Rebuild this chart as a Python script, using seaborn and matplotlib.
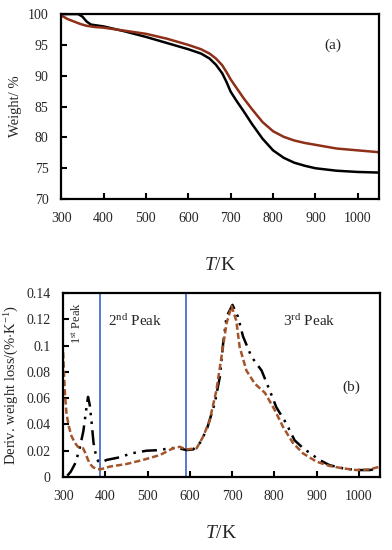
import matplotlib
matplotlib.use("Agg")
import matplotlib.pyplot as plt
import seaborn as sns

# ---- data: panel (a) TGA ----
t_black_a = [300, 320, 340, 350, 360, 370, 400, 450, 500, 550, 600, 630, 650, 665, 680, 690,
             700, 715, 730, 750, 775, 800, 825, 850, 875, 900, 950, 1000, 1050]
w_black_a = [100, 100, 100, 99.6, 98.8, 98.3, 98.0, 97.2, 96.3, 95.3, 94.3, 93.6, 92.8, 91.8, 90.4, 89.0,
             87.4, 85.8, 84.3, 82.2, 79.8, 77.9, 76.7, 75.9, 75.4, 75.0, 74.6, 74.4, 74.3]
t_brown_a = [300, 315, 330, 345, 360, 380, 400, 450, 500, 550, 600, 630, 650, 665, 680, 690,
             700, 715, 730, 750, 775, 800, 825, 850, 875, 900, 950, 1000, 1050]
w_brown_a = [99.8, 99.2, 98.8, 98.4, 98.1, 97.9, 97.8, 97.3, 96.8, 96.0, 95.0, 94.3, 93.6, 92.8, 91.7, 90.6,
             89.4, 87.9, 86.4, 84.6, 82.5, 81.0, 80.1, 79.5, 79.1, 78.8, 78.2, 77.9, 77.6]

# ---- data: panel (b) DTG ----
t_black_b = [310, 318, 328, 338, 348, 355, 359, 363, 368, 372, 378, 383, 390, 403, 434, 462, 497, 529,
             553, 573, 592, 608, 624, 640, 659, 671, 679, 687, 701, 714, 726, 746, 770, 789, 805, 828,
             848, 868, 907, 931, 963, 994, 1026, 1050]
d_black_b = [0.001, 0.004, 0.010, 0.020, 0.035, 0.052, 0.061, 0.055, 0.040, 0.026, 0.016, 0.012, 0.011,
             0.013, 0.015, 0.018, 0.020, 0.0205, 0.022, 0.022, 0.0205, 0.021, 0.026, 0.036, 0.056, 0.076,
             0.102, 0.122, 0.131, 0.122, 0.107, 0.0915, 0.081, 0.066, 0.053, 0.041, 0.028, 0.022, 0.013,
             0.009, 0.0066, 0.0053, 0.0053, 0.0066]
t_brown_b = [300, 304, 308, 314, 320, 328, 335, 347, 353, 359, 365, 371, 380, 387, 400, 410, 450, 489,
             529, 560, 576, 592, 616, 632, 647, 663, 675, 687, 699, 710, 718, 734, 754, 778, 801, 821,
             844, 868, 900, 931, 963, 994, 1026, 1050]
d_brown_b = [0.095, 0.065, 0.048, 0.038, 0.031, 0.026, 0.023, 0.022, 0.018, 0.013, 0.0095, 0.0074, 0.0062,
             0.0058, 0.0068, 0.0079, 0.0099, 0.013, 0.0167, 0.0218, 0.023, 0.021, 0.0218, 0.031, 0.043,
             0.066, 0.0915, 0.117, 0.13, 0.119, 0.099, 0.081, 0.071, 0.064, 0.051, 0.038, 0.026, 0.018,
             0.0117, 0.0084, 0.0066, 0.0053, 0.0058, 0.0079]
peak_bounds = [387, 590]

x_ticks = [300, 400, 500, 600, 700, 800, 900, 1000]
y_ticks_a = [70, 75, 80, 85, 90, 95, 100]
y_ticks_b = [0, 0.02, 0.04, 0.06, 0.08, 0.1, 0.12, 0.14]
y_ticklabels_b = ["0", "0.02", "0.04", "0.06", "0.08", "0.1", "0.12", "0.14"]

sns.set_theme(style="white")
plt.rcParams["font.family"] = ["Liberation Serif", "DejaVu Serif"]
plt.rcParams["mathtext.fontset"] = "custom"
plt.rcParams["mathtext.rm"] = "Liberation Serif"
plt.rcParams["mathtext.it"] = "Liberation Serif:italic"

fig = plt.figure(figsize=(3.92, 5.5), dpi=100)
ax1 = fig.add_axes([0.156, 0.638, 0.811, 0.3364])
ax2 = fig.add_axes([0.161, 0.1327, 0.808, 0.3345])

brown_a = "#8E2F17"
brown_b = "#A4542A"

sns.lineplot(x=t_black_a, y=w_black_a, ax=ax1, color="black", lw=1.8, sort=False)
sns.lineplot(x=t_brown_a, y=w_brown_a, ax=ax1, color=brown_a, lw=1.8, sort=False)

for xb in peak_bounds:
    ax2.axvline(xb, color="#4A6FC8", lw=1.3)
sns.lineplot(x=t_black_b, y=d_black_b, ax=ax2, color="black", lw=1.8, sort=False)
ax2.lines[-1].set_dashes([6, 2.5, 1, 2.5, 1, 2.5])
sns.lineplot(x=t_brown_b, y=d_brown_b, ax=ax2, color=brown_b, lw=1.8, sort=False)
ax2.lines[-1].set_dashes([2.5, 1.2])

for ax in (ax1, ax2):
    ax.set_xlim(300, 1050)
    ax.set_xticks(x_ticks)
    ax.tick_params(direction="in", length=4, width=1.5, labelsize=10, color="black",
                   bottom=True, left=True, pad=9)
    for s in ax.spines.values():
        s.set_color("black")
        s.set_linewidth(1.6)

ax1.set_ylim(70, 100)
ax1.set_yticks(y_ticks_a)
ax1.set_ylabel("Weight/ %", fontsize=10.5, labelpad=4)
ax1.set_xlabel(r"$\mathit{T}$/K", fontsize=14, labelpad=23)
ax1.text(941, 95, "(a)", fontsize=11, ha="center", va="center")

ax2.set_ylim(0, 0.14)
ax2.set_yticks(y_ticks_b)
ax2.set_yticklabels(y_ticklabels_b)
ax2.set_ylabel(r"Deriv. weight loss/(%$\cdot$K$^{-1}$)", fontsize=10.5, labelpad=4)
ax2.set_xlabel(r"$\mathit{T}$/K", fontsize=14, labelpad=16)
ax2.text(983, 0.068, "(b)", fontsize=11, ha="center", va="center")
ax2.text(406, 0.119, r"2$^{\mathrm{nd}}$ Peak", fontsize=11, ha="left", va="center")
ax2.text(820, 0.119, r"3$^{\mathrm{rd}}$ Peak", fontsize=11, ha="left", va="center")
ax2.text(334, 0.117, r"1$^{\mathrm{st}}$ Peak", fontsize=9, ha="center", va="center",
         rotation=90)

fig.savefig("out.png", dpi=100)
